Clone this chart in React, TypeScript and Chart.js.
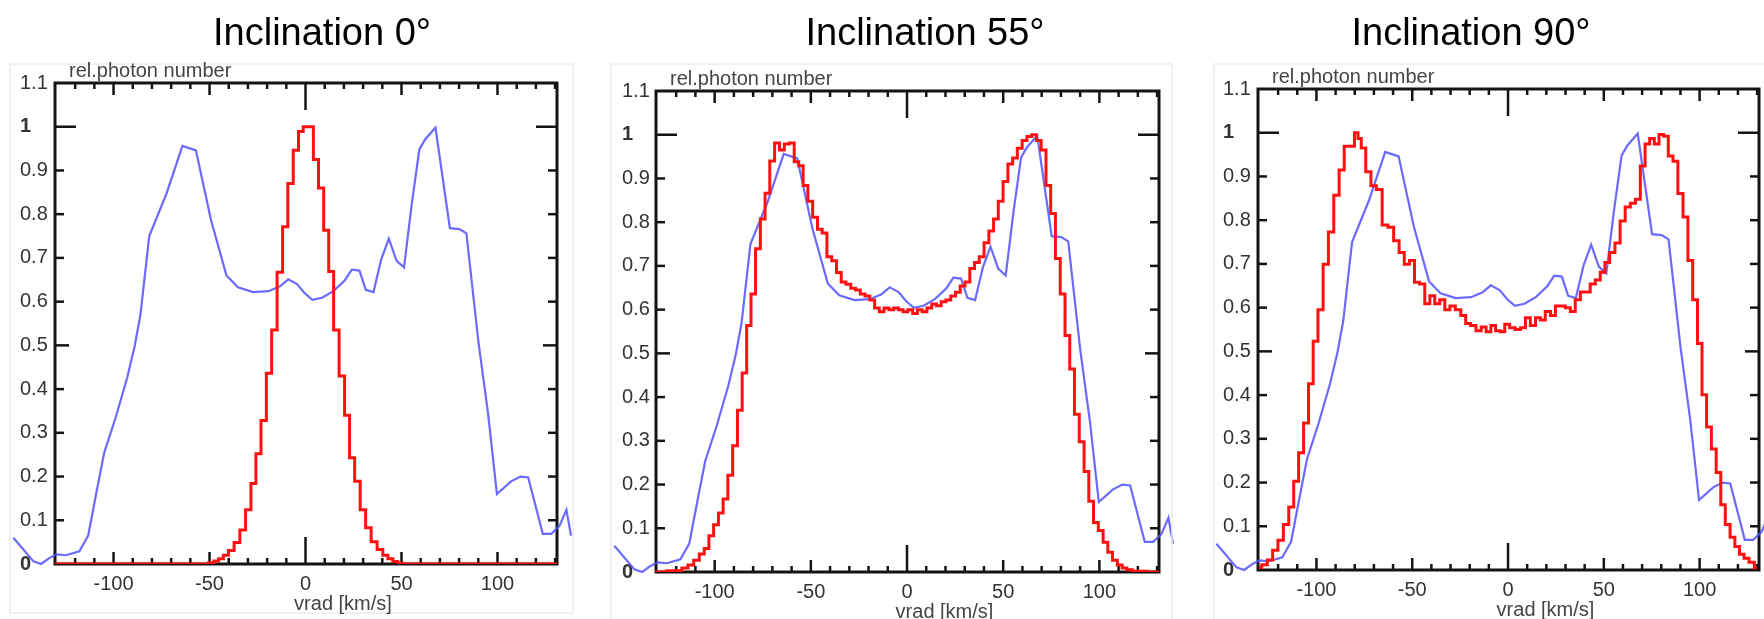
import { useEffect, useRef } from 'react';
import { Chart, registerables } from 'chart.js';
Chart.register(...registerables);

// ---------- data ----------
const TITLES = ['Inclination 0°', 'Inclination 55°', 'Inclination 90°'];
const Y_AXIS_LABEL = 'rel.photon number';
const X_AXIS_LABEL = 'vrad [km/s]';
const Y_TICKS = [0, 0.1, 0.2, 0.3, 0.4, 0.5, 0.6, 0.7, 0.8, 0.9, 1, 1.1];
const Y_TICK_LABELS = ['0', '0.1', '0.2', '0.3', '0.4', '0.5', '0.6', '0.7', '0.8', '0.9', '1', '1.1'];
const X_TICKS = [-100, -50, 0, 50, 100];
const X_MINOR_TICKS = [-120, -110, -100, -90, -80, -70, -60, -50, -40, -30, -20, -10, 0, 10, 20, 30, 40, 50, 60, 70, 80, 90, 100, 110, 120, 130];

// observed profile (blue), same in all panels
const BLUE_X = [-152.2, -141.7, -137.7, -133.7, -129.7, -124.8, -117.8, -113.2, -108.9, -104.9, -98.9, -92.9, -89.0, -86.0, -81.4, -72.6, -64.1, -57.1, -49.2, -41.2, -35.2, -27.3, -19.3, -13.3, -9.0, -4.4, -0.4, 3.6, 8.6, 14.5, 20.5, 24.1, 28.1, 31.4, 35.4, 39.4, 43.4, 47.4, 51.3, 55.3, 59.3, 62.3, 67.7, 75.2, 80.2, 83.8, 90.1, 95.1, 99.7, 107.1, 112.0, 116.0, 123.6, 128.0, 132.3, 135.9, 138.3];
const BLUE_Y = [0.060, 0.006, 0.0, 0.013, 0.022, 0.020, 0.029, 0.065, 0.164, 0.254, 0.335, 0.426, 0.498, 0.570, 0.750, 0.845, 0.956, 0.946, 0.786, 0.660, 0.633, 0.622, 0.624, 0.635, 0.651, 0.640, 0.619, 0.604, 0.609, 0.624, 0.649, 0.673, 0.671, 0.627, 0.622, 0.696, 0.744, 0.694, 0.678, 0.822, 0.948, 0.971, 0.998, 0.768, 0.766, 0.756, 0.507, 0.344, 0.160, 0.189, 0.200, 0.198, 0.069, 0.069, 0.087, 0.124, 0.065];

// model histograms (red)
const RED0_X = [-130.5, -52, -49, -46.5, -44, -41.6, -38.7, -35.7, -32.7, -29.75, -27.1, -24.6, -21.8, -19, -16.3, -13.3, -10.55, -7.9, -4.9, -2.4, 0, 2.8, 5.4, 8.1, 10.85, 13.3, 16, 19, 21.7, 24.2, 27, 29.95, 32.7, 35.7, 38.9, 41.6, 44.2, 46.8, 49.4, 52, 131];
const RED0_Y = [0, 0, 0.003, 0.007, 0.012, 0.02, 0.031, 0.049, 0.078, 0.124, 0.184, 0.252, 0.328, 0.436, 0.535, 0.667, 0.771, 0.870, 0.946, 0.989, 1.0, 1.0, 0.925, 0.86, 0.763, 0.669, 0.535, 0.430, 0.340, 0.243, 0.189, 0.124, 0.083, 0.051, 0.033, 0.02, 0.012, 0.006, 0.002, 0, 0];

const RED55_X = [-131, -118.8, -115.3, -112.4, -109.4, -106.6, -104.2, -101.8, -99.3, -96.8, -94.4, -91.9, -89.4, -86.9, -84.5, -82.2, -80.0, -77.5, -75.0, -72.6, -70.1, -67.6, -65.0, -62.6, -59.9, -57.4, -55.2, -52.8, -50.3, -47.8, -45.3, -42.9, -40.4, -37.9, -35.4, -33.0, -30.5, -28.0, -25.5, -23.1, -20.6, -18.1, -15.6, -13.2, -10.7, -8.2, -5.7, -3.3, -0.8, 1.7, 4.2, 6.6, 9.1, 11.6, 14.1, 16.5, 19.0, 21.5, 24.0, 26.4, 28.9, 31.4, 33.9, 36.3, 38.8, 41.3, 43.8, 46.2, 48.7, 51.2, 53.7, 56.1, 58.6, 61.1, 63.6, 66.0, 68.5, 71.0, 73.5, 75.9, 78.4, 80.9, 83.4, 85.8, 88.3, 90.8, 93.3, 95.7, 98.2, 100.7, 103.2, 105.6, 108.1, 110.6, 113.1, 115.5, 118.8, 131];
const RED55_Y = [0, 0.003, 0.009, 0.016, 0.027, 0.041, 0.054, 0.083, 0.108, 0.135, 0.167, 0.221, 0.289, 0.370, 0.455, 0.564, 0.636, 0.739, 0.807, 0.866, 0.940, 0.981, 0.965, 0.979, 0.981, 0.938, 0.929, 0.884, 0.848, 0.811, 0.784, 0.775, 0.721, 0.712, 0.685, 0.663, 0.658, 0.649, 0.645, 0.636, 0.631, 0.622, 0.604, 0.595, 0.604, 0.600, 0.604, 0.600, 0.595, 0.600, 0.591, 0.600, 0.595, 0.604, 0.613, 0.609, 0.618, 0.622, 0.631, 0.640, 0.654, 0.663, 0.694, 0.708, 0.721, 0.753, 0.780, 0.807, 0.848, 0.893, 0.933, 0.947, 0.969, 0.987, 0.996, 1.000, 0.987, 0.965, 0.884, 0.820, 0.717, 0.636, 0.541, 0.464, 0.361, 0.298, 0.230, 0.162, 0.113, 0.095, 0.068, 0.045, 0.027, 0.016, 0.009, 0.005, 0.002, 0];

const RED90_X = [-130.0, -127.1, -124.2, -121.5, -118.7, -115.8, -113.1, -110.6, -108.0, -105.4, -102.9, -100.5, -97.9, -95.1, -92.4, -89.5, -86.8, -84.2, -81.3, -79.0, -77.6, -75.6, -72.9, -70.2, -67.3, -64.1, -61.2, -58.2, -55.5, -52.8, -50.1, -47.5, -44.8, -42.1, -39.5, -37.0, -34.3, -31.7, -29.0, -26.0, -23.3, -20.9, -18.2, -15.3, -12.7, -10.2, -7.7, -5.3, -2.9, -0.5, 2.2, 5.2, 7.9, 10.3, 13.0, 15.7, 18.1, 20.8, 23.5, 26.0, 28.6, 31.3, 33.8, 36.4, 39.1, 41.6, 44.2, 46.9, 49.4, 51.7, 54.4, 57.2, 59.8, 62.5, 65.2, 67.8, 70.3, 72.8, 75.1, 77.6, 80.0, 82.4, 84.9, 87.3, 90.0, 92.7, 95.1, 97.7, 100.1, 102.4, 104.9, 107.4, 109.9, 112.2, 114.6, 117.2, 119.6, 122.0, 124.4, 127.1, 130.0];
const RED90_Y = [0.006, 0.012, 0.023, 0.045, 0.068, 0.104, 0.144, 0.203, 0.268, 0.336, 0.426, 0.523, 0.595, 0.699, 0.773, 0.857, 0.915, 0.969, 0.969, 1.0, 0.987, 0.965, 0.911, 0.879, 0.870, 0.789, 0.784, 0.753, 0.726, 0.699, 0.708, 0.658, 0.654, 0.609, 0.627, 0.609, 0.618, 0.595, 0.604, 0.595, 0.582, 0.564, 0.559, 0.547, 0.556, 0.545, 0.559, 0.547, 0.545, 0.562, 0.554, 0.550, 0.554, 0.577, 0.559, 0.577, 0.572, 0.591, 0.582, 0.604, 0.604, 0.600, 0.591, 0.618, 0.636, 0.636, 0.654, 0.663, 0.681, 0.703, 0.726, 0.748, 0.798, 0.830, 0.839, 0.848, 0.924, 0.974, 0.987, 0.974, 0.996, 0.992, 0.947, 0.935, 0.861, 0.807, 0.708, 0.618, 0.518, 0.401, 0.327, 0.277, 0.223, 0.149, 0.104, 0.075, 0.054, 0.036, 0.027, 0.018, 0.005];

const X_MIN = -130.5;
const X_MAX = 131;

// ---------- layout (page pixels) ----------
const H = 619;
const FONT = "'Liberation Sans', Arial, Helvetica, sans-serif";
const PANELS = [
  { title: TITLES[0], rx: RED0_X, ry: RED0_Y, cl: 0, cw: 600, labelLeft: 20, l: 55, t: 83, r: 557, b: 564, titleX: 322, frame: [10, 64, 573, 613] },
  { title: TITLES[1], rx: RED55_X, ry: RED55_Y, cl: 600, cw: 600, labelLeft: 622, l: 656, t: 91, r: 1159, b: 572, titleX: 925, frame: [611, 64, 1172, 640] },
  { title: TITLES[2], rx: RED90_X, ry: RED90_Y, cl: 1200, cw: 564, labelLeft: 1223, l: 1258, t: 89, r: 1759, b: 570, titleX: 1471, frame: [1214, 64, 1800, 640] },
];
const XH = 40;

function zip(xs: number[], ys: number[]) {
  return xs.map((x, i) => ({ x, y: ys[i] }));
}

function Panel({ p }: { p: typeof PANELS[number] }) {
  const ref = useRef<HTMLCanvasElement>(null);
  useEffect(() => {
    const canvas = ref.current!;
    const frame = {
      id: 'frame',
      beforeDatasetsDraw(chart: any) {
        const { ctx, chartArea: a, scales } = chart;
        const xs = scales.x, ys = scales.y;
        ctx.save();
        ctx.strokeStyle = '#141414';
        ctx.lineWidth = 2.5;
        const line = (x1: number, y1: number, x2: number, y2: number) => {
          ctx.beginPath(); ctx.moveTo(x1, y1); ctx.lineTo(x2, y2); ctx.stroke();
        };
        Y_TICKS.forEach((v, i) => {
          if (i === 0 || i === Y_TICKS.length - 1) return;
          const py = ys.getPixelForValue(v);
          const len = i === 10 ? 21 : i === 5 ? 14 : 9;
          line(a.left, py, a.left + len, py);
          line(a.right, py, a.right - len, py);
        });
        X_MINOR_TICKS.forEach((v) => {
          const px = xs.getPixelForValue(v);
          const len = v === 0 ? 27 : v % 50 === 0 ? 12 : 6;
          line(px, a.top, px, a.top + len);
          line(px, a.bottom, px, a.bottom - len);
        });
        ctx.lineWidth = 3;
        ctx.strokeRect(a.left, a.top, a.right - a.left, a.bottom - a.top);
        ctx.restore();
      },
      afterDraw(chart: any) {
        const { ctx, chartArea: a } = chart;
        ctx.save();
        ctx.strokeStyle = '#ececec';
        ctx.lineWidth = 1.5;
        const [fl, ft, fr, fb] = p.frame;
        ctx.strokeRect(fl - p.cl, ft, fr - fl, fb - ft);
        ctx.fillStyle = '#000';
        ctx.font = `38px ${FONT}`;
        ctx.textAlign = 'center';
        ctx.textBaseline = 'alphabetic';
        ctx.fillText(p.title, p.titleX - p.cl, 45);
        ctx.fillStyle = '#444';
        ctx.font = `20px ${FONT}`;
        ctx.textAlign = 'left';
        ctx.fillText(Y_AXIS_LABEL, a.left + 14, a.top - 6);
        ctx.textAlign = 'center';
        ctx.fillText(X_AXIS_LABEL, (a.left + a.right) / 2 + 37, a.bottom + 46);
        ctx.restore();
      },
    };
    const chart = new Chart(canvas, {
      type: 'line',
      data: {
        datasets: [
          {
            data: zip(p.rx, p.ry),
            borderColor: '#ff1010',
            borderWidth: 3,
            pointRadius: 0,
            stepped: 'middle',
            fill: false,
          },
          {
            data: zip(BLUE_X, BLUE_Y),
            borderColor: 'rgba(80,80,255,0.85)',
            borderWidth: 2.2,
            pointRadius: 0,
            tension: 0,
            fill: false,
            clip: false as any,
          },
        ],
      },
      plugins: [frame],
      options: {
        responsive: false,
        animation: false,
        events: [],
        layout: {
          padding: {
            left: p.labelLeft - p.cl,
            top: p.t,
            right: p.cl + p.cw - p.r,
            bottom: H - p.b - XH,
          },
        },
        plugins: { legend: { display: false }, tooltip: { enabled: false }, title: { display: false } },
        scales: {
          x: {
            type: 'linear',
            bounds: 'data',
            afterDataLimits: (s: any) => { s.min = X_MIN; s.max = X_MAX; },
            afterBuildTicks: (s: any) => {
              s.min = X_MIN;
              s.max = X_MAX;
              s.ticks = X_TICKS.map((v) => ({ value: v }));
            },
            afterFit: (s: any) => { s.height = XH; },
            grid: { display: false, drawTicks: false },
            border: { display: false },
            ticks: {
              autoSkip: false,
              maxRotation: 0,
              padding: 8,
              color: '#333',
              font: { family: FONT, size: 20 },
              callback: (v: any) => String(v),
            },
          },
          y: {
            type: 'linear',
            min: 0,
            max: 1.1,
            afterBuildTicks: (s: any) => { s.ticks = Y_TICKS.map((v) => ({ value: v })); },
            afterFit: (s: any) => { s.width = p.l - p.labelLeft; },
            grid: { display: false, drawTicks: false },
            border: { display: false },
            ticks: {
              autoSkip: false,
              crossAlign: 'far',
              padding: 0,
              color: '#333',
              font: (c: any) => ({
                family: FONT,
                size: 20,
                weight: c.index === 0 || c.index === 10 ? 'bold' : 'normal',
              }),
              callback: (_v: any, i: number) => Y_TICK_LABELS[i],
            },
          },
        },
      } as any,
    });
    return () => chart.destroy();
  }, []);
  return (
    <canvas
      ref={ref}
      width={p.cw}
      height={H}
      style={{ position: 'absolute', left: p.cl, top: 0, width: p.cw, height: H }}
    />
  );
}

export default function App() {
  return (
    <div style={{ position: 'absolute', left: 0, top: 0, width: 1764, height: H, background: '#fff', overflow: 'hidden' }}>
      {PANELS.map((p, i) => (
        <Panel key={i} p={p} />
      ))}
    </div>
  );
}
